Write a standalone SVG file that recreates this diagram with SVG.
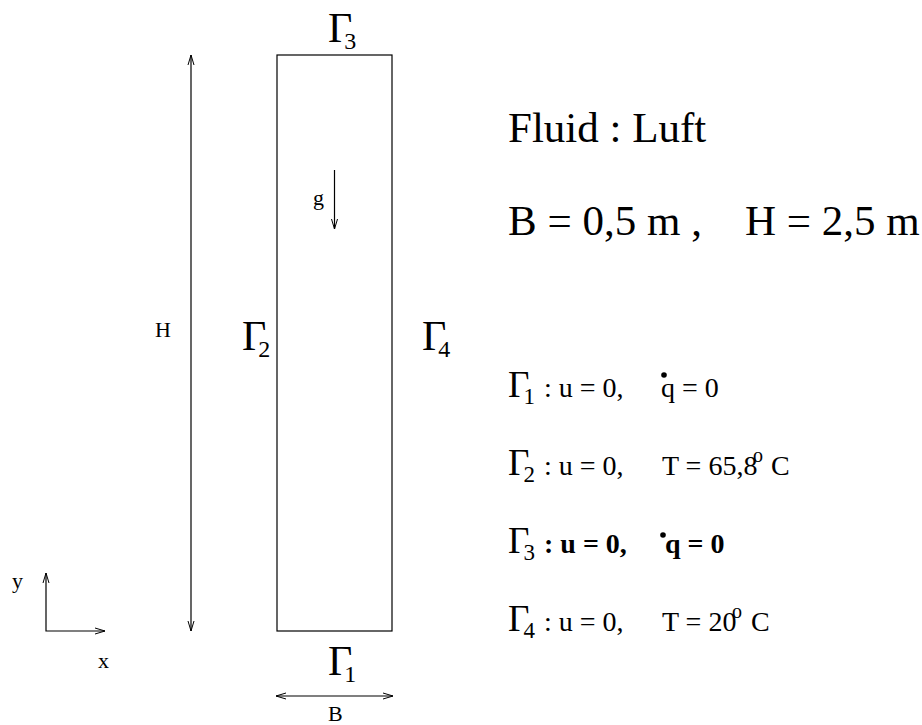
<svg xmlns="http://www.w3.org/2000/svg" width="922" height="725" viewBox="0 0 922 725">
<defs>
<marker id="ah" markerWidth="12" markerHeight="8" refX="11" refY="4" orient="auto-start-reverse" markerUnits="userSpaceOnUse">
<path d="M1,1 L11,4 L1,7" fill="none" stroke="#000" stroke-width="1"/>
</marker>
</defs>
<style>
text{font-family:"Liberation Serif","Times New Roman",serif;fill:#000}
.big{font-size:42px}
.sub{font-size:24px}
.lg{font-size:37px}
.lsub{font-size:23px}
.sm{font-size:28px}
.lab{font-size:22px}
.head{font-size:43px}
.deg{font-size:20px}
.b{font-weight:bold}
.ln{stroke:#000;stroke-width:1.2;fill:none}
</style>
<rect width="922" height="725" fill="#fff"/>
<g id="domain">
<rect class="ln" x="277" y="55" width="115" height="576"/>
</g>
<g id="connectors">
<line class="ln" x1="191" y1="55" x2="191" y2="631" marker-start="url(#ah)" marker-end="url(#ah)"/>
<line class="ln" x1="334.5" y1="170" x2="334.5" y2="229" marker-end="url(#ah)"/>
<polyline class="ln" points="46,573 46,631 105,631" marker-start="url(#ah)" marker-end="url(#ah)"/>
<line class="ln" x1="276" y1="696" x2="393" y2="696" marker-start="url(#ah)" marker-end="url(#ah)"/>
</g>
<g id="gamma3-top"><text class="big" x="328" y="42">Γ<tspan class="sub" dx="-8" dy="7">3</tspan></text></g>
<g id="gamma2-left"><text class="big" x="242" y="350">Γ<tspan class="sub" dx="-8" dy="7">2</tspan></text></g>
<g id="gamma4-right"><text class="big" x="422" y="350">Γ<tspan class="sub" dx="-8" dy="7">4</tspan></text></g>
<g id="gamma1-bottom"><text class="big" x="328" y="675">Γ<tspan class="sub" dx="-8" dy="7">1</tspan></text></g>
<g id="label-H"><text class="lab" x="155" y="337">H</text></g>
<g id="label-g"><text class="lab" x="313" y="205">g</text></g>
<g id="label-y"><text class="lab" x="12" y="588">y</text></g>
<g id="label-x"><text class="lab" x="98" y="668">x</text></g>
<g id="label-B"><text class="lab" x="328" y="721">B</text></g>
<g id="fluid"><text class="head" x="508" y="142">Fluid : Luft</text></g>
<g id="dims"><text class="head" x="508" y="235">B = 0,5 m ,</text><text class="head" x="745" y="235">H = 2,5 m</text></g>
<g id="bc1">
<text class="lg" x="508" y="397">Γ<tspan class="lsub" dx="-6" dy="7">1</tspan></text>
<text class="sm" x="544" y="397">: u = 0,</text>
<circle cx="664" cy="375" r="2.8"/>
<text class="sm" x="661" y="397">q = 0</text>
</g>
<g id="bc2">
<text class="lg" x="508" y="475">Γ<tspan class="lsub" dx="-6" dy="7">2</tspan></text>
<text class="sm" x="544" y="475">: u = 0,</text>
<text class="sm" x="662" y="475">T = 65,8</text>
<text class="deg" x="753" y="462">o</text>
<text class="sm" x="771" y="475">C</text>
</g>
<g id="bc3">
<text class="lg" x="508" y="553">Γ<tspan class="lsub" dx="-6" dy="7">3</tspan></text>
<text class="sm b" x="544" y="553">: u = 0,</text>
<circle cx="663" cy="535" r="2.8"/>
<text class="sm b" x="665" y="553">q = 0</text>
</g>
<g id="bc4">
<text class="lg" x="508" y="631">Γ<tspan class="lsub" dx="-6" dy="7">4</tspan></text>
<text class="sm" x="544" y="631">: u = 0,</text>
<text class="sm" x="662" y="631">T = 20</text>
<text class="deg" x="732" y="618">o</text>
<text class="sm" x="751" y="631">C</text>
</g>
</svg>
